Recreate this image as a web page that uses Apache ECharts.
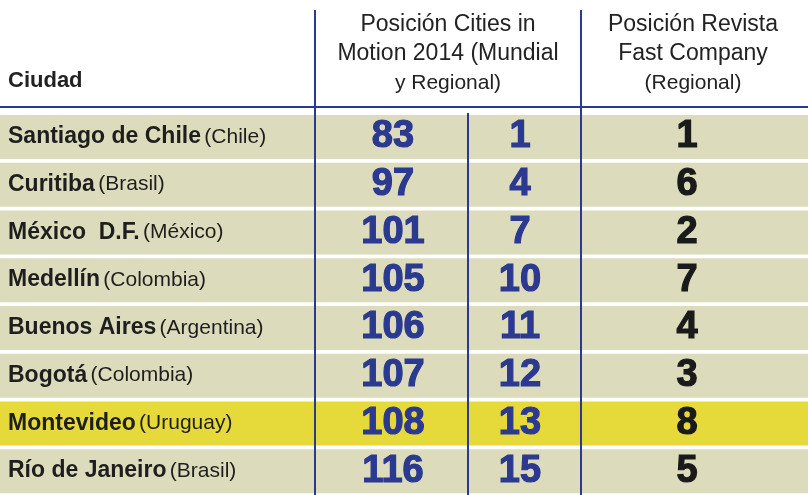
<!DOCTYPE html>
<html><head><meta charset="utf-8">
<script src="https://cdn.jsdelivr.net/npm/echarts@6/dist/echarts.min.js"></script>
<style>html,body{margin:0;padding:0;background:#fff}#c{width:808px;height:495px}</style>
</head><body><div id="c"></div>
<script>
const cities = ['Santiago de Chile','Curitiba','México  D.F.','Medellín','Buenos Aires','Bogotá','Montevideo','Río de Janeiro'];
const countries = ['(Chile)','(Brasil)','(México)','(Colombia)','(Argentina)','(Colombia)','(Uruguay)','(Brasil)'];
const mundial = [83,97,101,105,106,107,108,116];
const regional = [1,4,7,10,11,12,13,15];
const fastCompany = [1,6,2,7,4,3,8,5];
const highlight = 'Montevideo';

const BLUE = '#2b3990', BEIGE = '#dcdcbd', YELLOW = '#e5da3a';
const FF = '"Liberation Sans", Arial, sans-serif';
const colX = {city: 8, c1: 393, c2: 520, c3: 687};
const chart = echarts.init(document.getElementById('c'));
const numLabel = (color) => ({show:true, position:'inside', formatter: p => p.data[2],
  fontFamily:FF, fontWeight:'bold', fontSize:38, color, textBorderColor:color, textBorderWidth:1.2, opacity:1});
const hText = (x, y, t, opts={}) => ({type:'text', x, y, style:Object.assign({text:t, fontFamily:FF, fontSize:22, fill:'#222', align:'center', verticalAlign:'middle'}, opts)});
const sc = {type:'scatter',symbolSize:0,itemStyle:{opacity:1},emphasis:{disabled:true}};
chart.setOption({
  animation:false,
  grid:{left:0,right:0,top:113,bottom:0},
  xAxis:{type:'value',min:0,max:808,show:false},
  yAxis:{type:'category',data:cities,inverse:true,show:false},
  series:[
    {type:'bar',barWidth:44,silent:true,
     data:cities.map(c=>({value:808,itemStyle:{color:c===highlight?YELLOW:BEIGE}})),
     markLine:{symbol:'none',silent:true,label:{show:false},lineStyle:{color:BLUE,width:2,type:'solid'},data:[{xAxis:468}]}},
    Object.assign({},sc,{
     data:cities.map((c,i)=>[colX.city,c,i]),
     label:{show:true,position:'right',distance:0,
       formatter:p=>'{b|'+cities[p.data[2]]+'} {n|'+countries[p.data[2]]+'}',
       rich:{b:{fontFamily:FF,fontWeight:'bold',fontSize:23,color:'#1e1e1e'},
             n:{fontFamily:FF,fontSize:21,color:'#1e1e1e'}}}}),
    Object.assign({},sc,{data:cities.map((c,i)=>[colX.c1,c,mundial[i]]),label:numLabel(BLUE)}),
    Object.assign({},sc,{data:cities.map((c,i)=>[colX.c2,c,regional[i]]),label:numLabel(BLUE)}),
    Object.assign({},sc,{data:cities.map((c,i)=>[colX.c3,c,fastCompany[i]]),label:numLabel('#1a1a1a')})
  ],
  graphic:[
    {type:'line',shape:{x1:0,y1:107,x2:808,y2:107},style:{stroke:BLUE,lineWidth:2},z:100},
    {type:'line',shape:{x1:315,y1:10,x2:315,y2:495},style:{stroke:BLUE,lineWidth:2},z:100},
    {type:'line',shape:{x1:581,y1:10,x2:581,y2:495},style:{stroke:BLUE,lineWidth:2},z:100},
    hText(8,81,'Ciudad',{align:'left',fontWeight:'bold'}),
    hText(448,25,'Posición Cities in',{fontSize:23}),
    hText(448,54,'Motion 2014 (Mundial',{fontSize:23}),
    hText(448,83,'y Regional)',{fontSize:21}),
    hText(693,25,'Posición Revista',{fontSize:23}),
    hText(693,54,'Fast Company',{fontSize:23}),
    hText(693,83,'(Regional)',{fontSize:21})
  ]
});
</script></body></html>
